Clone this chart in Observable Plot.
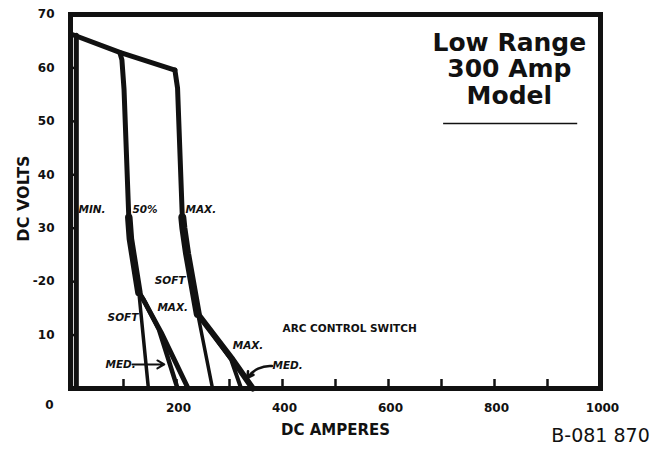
<!DOCTYPE html>
<html>
<head>
<meta charset="utf-8">
<script src="https://cdn.jsdelivr.net/npm/d3@7"></script>
<script src="https://cdn.jsdelivr.net/npm/@observablehq/plot@0.6"></script>
<style>
  html, body { margin: 0; padding: 0; background: #fff; }
  #chart svg { display: block; }
</style>
</head>
<body>
<div id="chart"></div>
<script>
// ---- tick values and labels ----
const yTicks = [10, 20, 30, 40, 50, 60, 70];
const yTickLabels = ["10", "-20", "30", "40", "50", "60", "70"];
const xTicks = [200, 400, 600, 800, 1000];
const xTickLabels = ["200", "400", "600", "800", "1000"];
const xMinorTicks = [100, 200, 300, 400, 500, 600, 700, 800, 900];

// ---- curves (DC amperes, DC volts) ----
const openCircuitAmps = [2, 93, 197];
const openCircuitVolts = [66.3, 62.9, 59.6];

const minAmps = [11, 11];
const minVolts = [66.1, 0];

const p50Amps = [93, 97, 101, 110];
const p50Volts = [62.9, 61.5, 56, 32];
const p50KneeAmps = [110, 113, 129];
const p50KneeVolts = [32, 28, 18];
const p50SoftAmps = [129, 147];
const p50SoftVolts = [18, 0];
const p50MedAmps = [129, 138, 167, 202];
const p50MedVolts = [18, 16.6, 11, 0];
const p50MaxAmps = [129, 142, 171, 222];
const p50MaxVolts = [18, 15.8, 10.5, 0];

const maxAmps = [197, 202, 211];
const maxVolts = [59.6, 56.2, 32];
const maxKneeAmps = [211, 213, 220, 240];
const maxKneeVolts = [32, 30, 25.2, 14.0];
const maxSoftAmps = [240, 268];
const maxSoftVolts = [14.0, 0];
const maxMedAmps = [240, 303, 322];
const maxMedVolts = [14.0, 5.4, 0];
const maxMaxAmps = [240, 306, 344];
const maxMaxVolts = [14.0, 5.4, 0];

// ---- helpers ----
const ink = "#111";
const F = "DejaVu Sans";
const pts = (a, v) => a.map((d, i) => ({amps: d, volts: v[i]}));
const curve = (a, v, w) => Plot.line(pts(a, v), {
  x: "amps", y: "volts", stroke: ink, strokeWidth: w,
  strokeLinejoin: "round", strokeLinecap: "round"
});
const lbl = (t, x, y, o = {}) => Plot.text([t], {
  x, y, text: d => d, fontFamily: F, fontWeight: "bold", fontSize: 10.5,
  fontStyle: "italic", fill: ink, textAnchor: "start", lineAnchor: "middle", ...o
});
const yLab = new Map(yTicks.map((t, i) => [t, yTickLabels[i]]));
const xLab = new Map(xTicks.map((t, i) => [t, xTickLabels[i]]));

const chart = Plot.plot({
  width: 667,
  height: 450,
  marginLeft: 70,
  marginRight: 67,
  marginTop: 14,
  marginBottom: 62,
  x: {domain: [0, 1000]},
  y: {domain: [0, 70]},
  style: {background: "#fff", color: ink},
  marks: [
    // inward ticks
    Plot.ruleX(xMinorTicks, {x: d => d, y1: 0, y2: 0, insetTop: -9, stroke: ink, strokeWidth: 2.5}),
    Plot.ruleY(yTicks.slice(0, -1), {y: d => d, x1: 0, x2: 0, insetRight: -6, stroke: ink, strokeWidth: 2.5}),
    // tick labels
    Plot.axisY({ticks: yTicks, tickSize: 0, tickPadding: 16, tickFormat: d => yLab.get(d),
      fontFamily: F, fontWeight: "bold", fontSize: 12, fill: ink, label: null}),
    Plot.axisX({ticks: xTicks, tickSize: 0, tickPadding: 15, tickFormat: d => xLab.get(d),
      fontFamily: F, fontWeight: "bold", fontSize: 12, fill: ink, dx: 2, label: null}),
    Plot.text(["0"], {x: 0, y: 0, text: d => d, dx: -21, dy: 17, fontFamily: F, fontWeight: "bold",
      fontSize: 12, fill: ink, textAnchor: "middle", lineAnchor: "middle"}),
    // axis titles
    Plot.text(["DC AMPERES"], {frameAnchor: "bottom", text: d => d, dy: 42, fontFamily: F,
      fontWeight: "bold", fontSize: 15, fill: ink, textAnchor: "middle", lineAnchor: "middle"}),
    Plot.text(["DC VOLTS"], {frameAnchor: "left", text: d => d, rotate: -90, dx: -47, dy: -3,
      fontFamily: F, fontWeight: "bold", fontSize: 16, fill: ink, textAnchor: "middle", lineAnchor: "middle"}),
    Plot.text(["B-081 870"], {frameAnchor: "bottom-right", text: d => d, dy: 47, fontFamily: F,
      fontSize: 19, fill: ink, textAnchor: "middle", lineAnchor: "middle"}),

    // curves
    curve(openCircuitAmps, openCircuitVolts, 5),
    curve(minAmps, minVolts, 5),
    curve(p50Amps, p50Volts, 5),
    curve(p50KneeAmps, p50KneeVolts, 7.5),
    curve(p50SoftAmps, p50SoftVolts, 3.5),
    curve(p50MedAmps, p50MedVolts, 4.5),
    curve(p50MaxAmps, p50MaxVolts, 5),
    curve(maxAmps, maxVolts, 5),
    curve(maxKneeAmps, maxKneeVolts, 8),
    curve(maxSoftAmps, maxSoftVolts, 3.5),
    curve(maxMedAmps, maxMedVolts, 4),
    curve(maxMaxAmps, maxMaxVolts, 6),

    // frame
    Plot.frame({stroke: ink, strokeWidth: 5}),

    // curve labels
    lbl("MIN.", 15, 33.5),
    lbl("50%", 117, 33.5),
    lbl("MAX.", 217, 33.5),
    lbl("SOFT", 217, 20.2, {textAnchor: "end"}),
    lbl("MAX.", 164, 15.2),
    lbl("SOFT", 70, 13.3),
    lbl("MED.", 66, 4.5),
    lbl("MAX.", 306, 8.0),
    lbl("MED.", 381, 4.3),
    lbl("ARC CONTROL SWITCH", 400, 11.2, {fontStyle: "normal"}),
    Plot.arrow([0], {x1: 117, y1: 4.5, x2: 177, y2: 4.5, stroke: ink, strokeWidth: 2, headLength: 6}),
    Plot.arrow([0], {x1: 380, y1: 4.2, x2: 334, y2: 2.0, bend: -30, stroke: ink, strokeWidth: 2.5, headLength: 4}),

    // title box
    Plot.text(["Low Range\n300 Amp\nModel"], {x: 828, y: 59.8, text: d => d, fontFamily: F,
      fontWeight: "bold", fontSize: 25, lineHeight: 1.06, fill: ink, textAnchor: "middle", lineAnchor: "middle"}),
    Plot.ruleY([49.6], {x1: 704, x2: 957, stroke: ink, strokeWidth: 1.5})
  ]
});
document.getElementById("chart").appendChild(chart);
</script>
</body>
</html>
